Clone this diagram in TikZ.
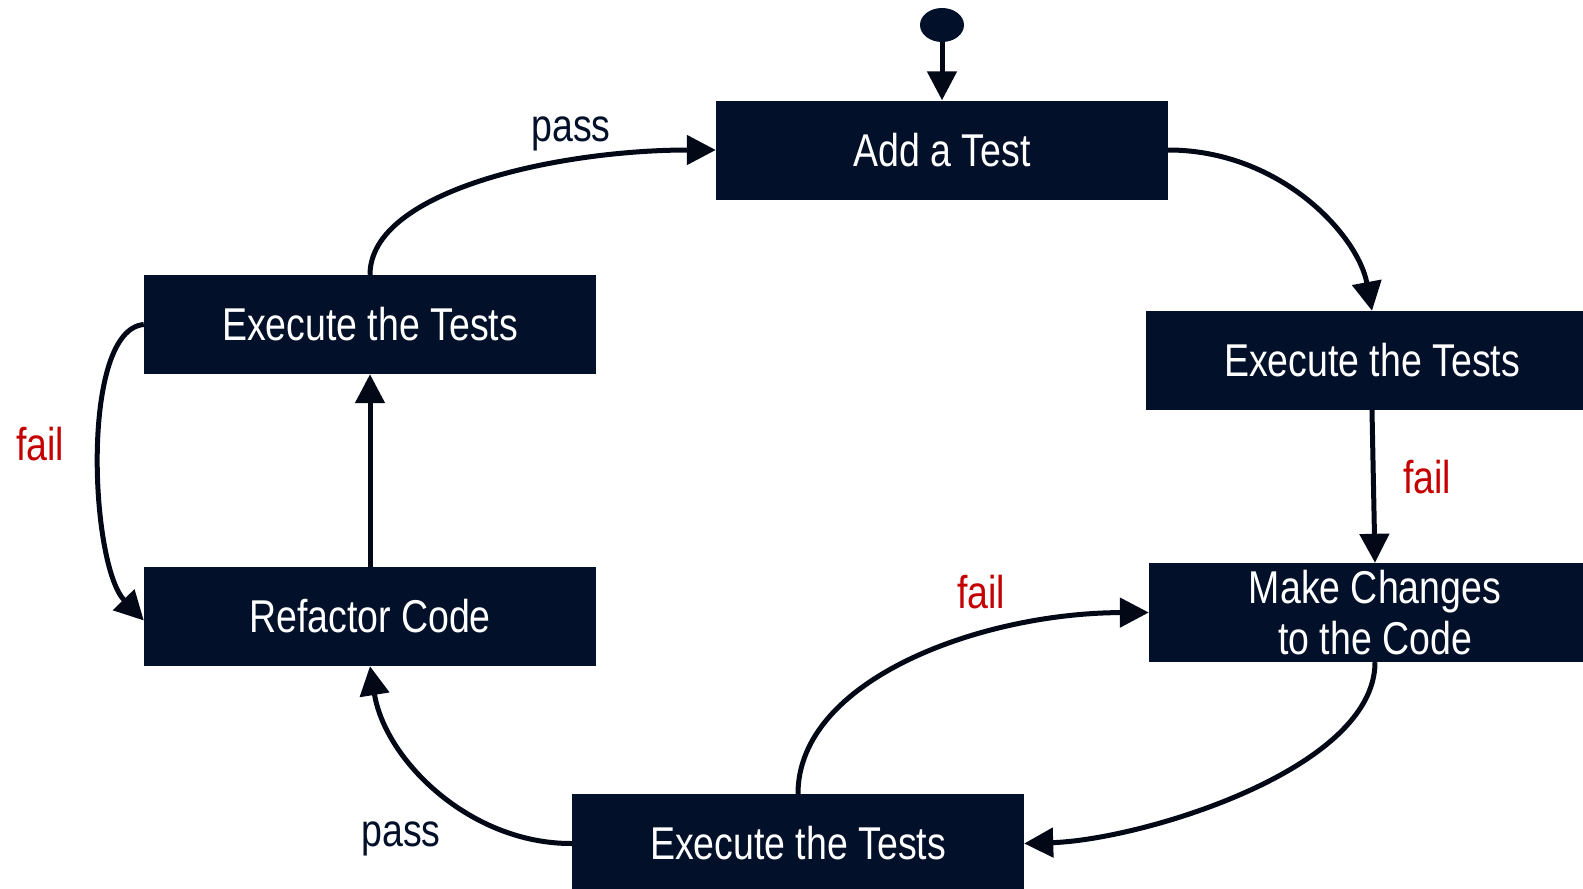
\documentclass[tikz,border=0pt]{standalone}
\usepackage{fontspec}
\setmainfont[FakeStretch=0.815]{Liberation Sans}
\usetikzlibrary{arrows.meta,shapes.geometric}
\definecolor{boxnavy}{RGB}{2,16,41}
\definecolor{linenavy}{RGB}{3,8,22}
\definecolor{failred}{RGB}{196,0,0}
\tikzset{
  stepbox/.style={rectangle, fill=boxnavy, text=white, minimum width=452pt,
    minimum height=99pt, inner sep=0pt, align=center,
    font=\fontsize{46}{51}\selectfont},
  flow/.style={draw=linenavy, line width=5pt,
    -{Triangle[length=29pt,width=29pt]}},
  passlbl/.style={anchor=base, text=boxnavy, font=\fontsize{46}{51}\selectfont},
  faillbl/.style={anchor=base, text=failred, font=\fontsize{46}{51}\selectfont},
}
\begin{document}
\begin{tikzpicture}[x=1pt,y=-1pt]
\useasboundingbox (0,0) rectangle (1583,889);

% start marker
\node[ellipse, fill=boxnavy, minimum width=44pt, minimum height=34pt, inner sep=0pt] (start) at (942,25) {};

% activity boxes
\node[stepbox] (add) at (942,150) {Add a Test};
\node[stepbox] (exR) at (1372,360.5) {Execute the Tests};
\node[stepbox] (mod) at (1375,612.5) {Make Changes\\to the Code};
\node[stepbox] (exB) at (798,843.5) {Execute the Tests};
\node[stepbox] (ref) at (370,616.5) {Refactor Code};
\node[stepbox] (exL) at (370,324.5) {Execute the Tests};

% transitions
\draw[flow] (start.south) -- (add.north);
\draw[flow] (add.east) .. controls (1280,150) and (1358,235) .. (exR.north);
\draw[flow] (exR.south) -- (mod.north);
\draw[flow] (mod.south) .. controls (1375,770) and (1140,840) .. (exB.east);
\draw[flow] (exB.north) .. controls (798,680) and (980,613) .. (mod.west);
\draw[flow] (exB.west) .. controls (470,844) and (385,760) .. (ref.south);
\draw[flow] (ref.north) -- (exL.south);
\draw[flow] (exL.west) .. controls (80,330) and (90,565) .. ([yshift=-4pt]ref.west);
\draw[flow] (exL.north) .. controls (370,190) and (560,150) .. (add.west);

% guard labels
\node[passlbl] (p1) at (571,141) {pass};
\node[passlbl] (p2) at (401,846) {pass};
\node[faillbl] (f1) at (1427,493) {fail};
\node[faillbl] (f2) at (981,608) {fail};
\node[faillbl] (f3) at (40,460) {fail};
\end{tikzpicture}
\end{document}
